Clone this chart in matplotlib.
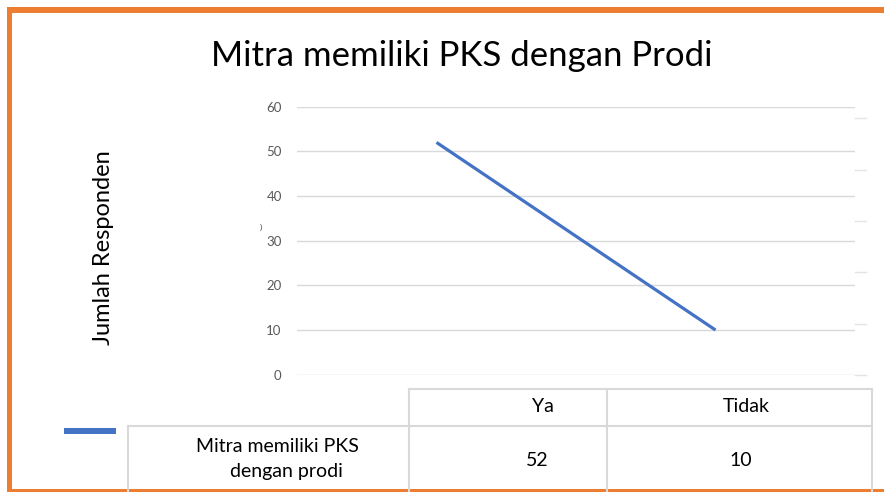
import matplotlib.pyplot as plt
from matplotlib.patches import Rectangle
from matplotlib.lines import Line2D

categories = ['Ya', 'Tidak']
values = [52, 10]
series_lines = ['Mitra memiliki PKS', 'dengan prodi']
title = 'Mitra memiliki PKS dengan Prodi'
y_label = 'Jumlah Responden'
y_ticks = [0, 10, 20, 30, 40, 50, 60]

W, H = 884, 492
FONT = 'Lato'
GRID = '#d9d9d9'
ORANGE = '#ED7D31'
BLUE = '#4472C4'


def px(x, y):
    # pixel coords (top-left origin) -> figure fraction
    return x / W, 1 - y / H


fig = plt.figure(figsize=(W / 100, H / 100), dpi=100)

# plot area
x0, y_top = px(297, 106.7)
x1, y_bot = px(855, 374.7)
ax = fig.add_axes([x0, y_bot, x1 - x0, y_top - y_bot])
ax.plot(range(len(categories)), values, color=BLUE, linewidth=2.3,
        solid_capstyle='butt')
ax.set_xlim(-0.5, len(categories) - 0.5)
ax.set_ylim(0, 60)
ax.set_yticks(y_ticks)
ax.set_xticks([])
ax.yaxis.grid(True, color=GRID, linewidth=1)
ax.set_axisbelow(True)
for s in ax.spines.values():
    s.set_visible(False)
ax.tick_params(axis='y', length=0, pad=11, labelsize=9.5, labelcolor='#595959')
for lbl in ax.get_yticklabels():
    lbl.set_fontfamily(FONT)

# title and axis label
fig.text(*px(462, 56), title, ha='center', va='center',
         fontsize=25, family=FONT, color='black')
fig.text(*px(104, 248), y_label, ha='center', va='center', rotation=90,
         fontsize=17, family=FONT, color='black')

# small stray marks in the original
fig.text(*px(261, 227), ')', ha='center', va='center', fontsize=6,
         color='#404040', family=FONT)
for yy in [118, 170, 221, 272, 324, 375]:
    fig.add_artist(Line2D([px(855, yy)[0], px(866, yy)[0]],
                          [px(855, yy)[1]] * 2, color='#e4e4e4', lw=1))

# data table below the chart
col_edges = [128, 409, 607, 872]
hdr_top, row_div, tbl_bot = 389, 426, 492


def hline(xa, xb, y):
    fig.add_artist(Line2D([px(xa, y)[0], px(xb, y)[0]], [px(xa, y)[1]] * 2,
                          color=GRID, lw=1.5))


def vline(x, ya, yb):
    fig.add_artist(Line2D([px(x, ya)[0]] * 2, [px(x, ya)[1], px(x, yb)[1]],
                          color=GRID, lw=1.5))


hline(col_edges[1], col_edges[3], hdr_top)
hline(col_edges[0], col_edges[3], row_div)
vline(col_edges[0], row_div, tbl_bot)
for xe in col_edges[1:]:
    vline(xe, hdr_top, tbl_bot)

head_x = [543, 746]
val_x = [537, 741]
for cat, v, hx, vx in zip(categories, values, head_x, val_x):
    fig.text(*px(hx, 407), cat, ha='center', va='center', fontsize=14,
             family=FONT)
    fig.text(*px(vx, 460), str(v), ha='center', va='center', fontsize=14,
             family=FONT)
for line, lx, ly in zip(series_lines, [277, 286], [446, 472]):
    fig.text(*px(lx, ly), line, ha='center', va='center', fontsize=14,
             family=FONT)

# legend key
fig.add_artist(Line2D([px(64, 431)[0], px(116, 431)[0]], [px(64, 431)[1]] * 2,
                      color=BLUE, lw=4.3, solid_capstyle='butt'))

# orange frame
for (rx, ry, rw, rh) in [(7, 7, 877, 6), (7, 7, 5, 485), (7, 489, 877, 3)]:
    fx, fy = px(rx, ry + rh)
    fig.add_artist(Rectangle((fx, fy), rw / W, rh / H, transform=fig.transFigure,
                             facecolor=ORANGE, edgecolor='none'))

fig.savefig('out.png', dpi=100)
